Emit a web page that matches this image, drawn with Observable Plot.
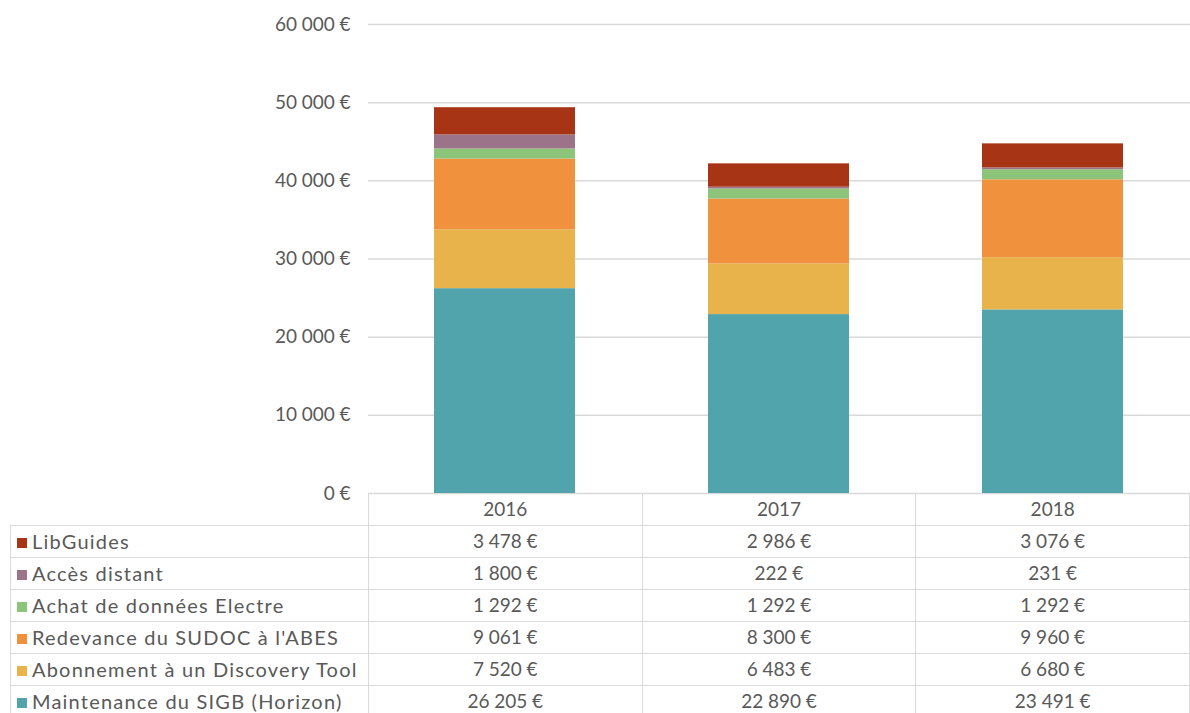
<!DOCTYPE html>
<html>
<head>
<meta charset="utf-8">
<script src="https://cdn.jsdelivr.net/npm/d3@7"></script>
<script src="https://cdn.jsdelivr.net/npm/@observablehq/plot@0.6"></script>
<style>
  html, body { margin: 0; padding: 0; background: #fff; }
  #wrap { position: relative; width: 1190px; height: 713px; overflow: hidden; font-family: Lato, "Open Sans", sans-serif; color: #595959; }
  #wrap svg { overflow: visible; }
  table { position: absolute; left: 10px; top: 493px; border-collapse: collapse; table-layout: fixed; font-family: Lato, sans-serif; font-size: 19px; color: #595959; }
  td { border: 1px solid #d9d9d9; padding: 0 0 2px 0; height: 29px; text-align: center; white-space: nowrap; }
  td.lab { text-align: left; padding-left: 6px; font-size: 20px; letter-spacing: 1.2px; }
  tr.head td.blank { border-top: none; border-left: none; }
  .sw { display: inline-block; width: 10px; height: 10px; margin-right: 5px; vertical-align: 1px; }
</style>
</head>
<body>
<div id="wrap"></div>
<script>
const years = ["2016", "2017", "2018"];
const series = [
  "LibGuides",
  "Accès distant",
  "Achat de données Electre",
  "Redevance du SUDOC à l'ABES",
  "Abonnement à un Discovery Tool",
  "Maintenance du SIGB (Horizon)"
];
const libGuides    = [3478, 2986, 3076];
const accesDistant = [1800, 222, 231];
const electre      = [1292, 1292, 1292];
const sudoc        = [9061, 8300, 9960];
const discovery    = [7520, 6483, 6680];
const sigb         = [26205, 22890, 23491];
const colors = ["#a83416", "#9c7489", "#8cc57a", "#f0913d", "#e9b34b", "#52a4ac"];
const yTicks = [0, 10000, 20000, 30000, 40000, 50000, 60000];

const valuesBySeries = [libGuides, accesDistant, electre, sudoc, discovery, sigb];

const loc = d3.formatLocale({decimal: ",", thousands: "\u202f", grouping: [3], currency: ["", "\u202f€"]});
const fmt = loc.format("$,.0f");

// long data, bottom of stack first
const data = [];
for (let s = series.length - 1; s >= 0; s--) {
  years.forEach((y, i) => data.push({year: y, series: series[s], value: valuesBySeries[s][i]}));
}

const chart = Plot.plot({
  width: 1190,
  height: 713,
  marginLeft: 368,
  marginRight: 0,
  marginTop: 24,
  marginBottom: 220,
  style: {fontFamily: "Lato, sans-serif", fontSize: "19px", color: "#595959", background: "transparent"},
  x: {domain: years, paddingInner: 0.485, paddingOuter: 0.2425, axis: null},
  y: {domain: [0, 60000], ticks: yTicks, tickFormat: fmt, label: null},
  color: {domain: series, range: colors},
  marks: [
    Plot.gridY(yTicks, {stroke: "#d9d9d9", strokeOpacity: 1, strokeWidth: 1.5}),
    Plot.axisY(yTicks, {tickSize: 0, tickPadding: 18, tickFormat: fmt, label: null, fill: "#595959", fontSize: 19}),
    Plot.barY(data, {x: "year", y: "value", fill: "series"})
  ]
});

const wrap = document.getElementById("wrap");
wrap.appendChild(chart);

// data table below the chart
const table = document.createElement("table");
const cg = document.createElement("colgroup");
[358, 274, 274, 274].forEach(w => { const c = document.createElement("col"); c.style.width = w + "px"; cg.appendChild(c); });
table.appendChild(cg);
const head = document.createElement("tr");
head.className = "head";
const blank = document.createElement("td"); blank.className = "blank"; head.appendChild(blank);
years.forEach(y => { const td = document.createElement("td"); td.textContent = y; head.appendChild(td); });
table.appendChild(head);
series.forEach((s, k) => {
  const tr = document.createElement("tr");
  const lab = document.createElement("td"); lab.className = "lab";
  const sw = document.createElement("span"); sw.className = "sw"; sw.style.background = colors[k];
  lab.appendChild(sw); lab.appendChild(document.createTextNode(s));
  tr.appendChild(lab);
  valuesBySeries[k].forEach(v => { const td = document.createElement("td"); td.textContent = fmt(v); tr.appendChild(td); });
  table.appendChild(tr);
});
wrap.appendChild(table);
</script>
</body>
</html>
